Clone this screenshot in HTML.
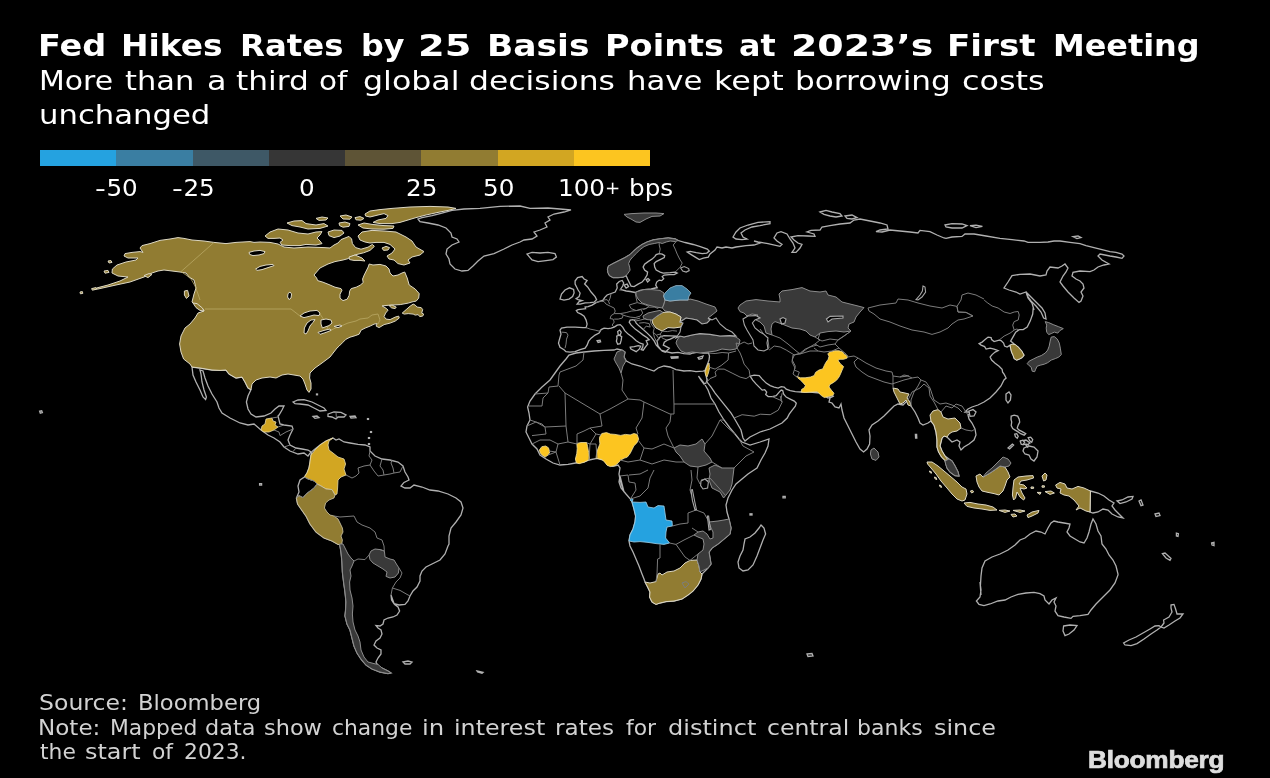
<!DOCTYPE html>
<html lang="en">
<head>
<meta charset="utf-8">
<title>Fed Hikes Rates by 25 Basis Points at 2023’s First Meeting</title>
<style>
html,body{margin:0;padding:0;background:#000;}
body{width:1270px;height:778px;position:relative;overflow:hidden;font-family:"DejaVu Sans","Liberation Sans",sans-serif;color:#fff;}
.abs{position:absolute;white-space:nowrap;line-height:1;transform-origin:0 0;}
#title{left:0;top:31px;font-size:30px;font-weight:bold;}
#sub1{left:0;top:67px;font-size:27px;}
#sub2{left:0;top:101px;font-size:27px;}
.w{position:absolute;top:0;transform-origin:0 0;white-space:nowrap;}
.lg{position:absolute;top:150px;height:16px;}
.ll{top:177px;font-size:23px;transform:scaleX(1.07);}
.hy{display:inline-block;transform:scaleX(1.22);transform-origin:0 50%;margin-right:2.4px;}
.pl{font-size:17px;position:relative;top:-2px;margin:0 1px 0 0;}
.ft{font-size:21px;color:#d2d2d2;left:0;}
#logo{left:1088px;top:748.6px;font-family:"Liberation Sans",sans-serif;font-weight:bold;font-size:23px;color:#dedede;transform:scaleX(1.14);-webkit-text-stroke:0.7px #dedede;letter-spacing:-0.2px;}
#map{position:absolute;left:0;top:0;}
</style>
</head>
<body>
<svg id="map" width="1270" height="778" viewBox="0 0 1270 778">
<path fill="#000" stroke="#b0b0b0" stroke-width="1.3" d="M192,367 L193,375 L196,382 L200,390 L203,397 L205.6,399.6 L206.4,397 L204,390 L202,382 L201,374 L200,370 L203,371 L205,378 L208,386 L212,394 L217,402 L219,408 L222,413 L230,418 L240,423 L248,425 L254,424 L261,430 L268,435 L274,438 L280,442 L284,447 L290,451 L298,454 L304,453 L308,456 L311,452 L308,450 L302,449 L296,448 L290,445 L288,440 L290,435 L293,429 L292,426 L284,425 L280,424 L278,416 L279,415 L282,410 L284,406 L279,406 L275,409 L271,413 L264,416 L256,417 L251,414 L248,409 L246.4,402 L248,396 L251,389.6 L248,388 L245,382 L242,377 L236,378 L229,374 L226,370 L220,370.4 L212,370 L200,368Z"/>
<path fill="#000" stroke="#b0b0b0" stroke-width="1.3" d="M293,402 L298,400 L304,399.6 L312,402 L318,405 L324,408 L326,410.4 L320,411 L314,408 L308,405 L300,404 L295,403.6Z"/>
<path fill="#000" stroke="#b0b0b0" stroke-width="1.3" d="M328,414 L334,412 L341,412.4 L346,415 L344,417 L338,417 L336,419 L332,417 L328,416.4Z"/>
<path fill="#000" stroke="#b0b0b0" stroke-width="1.3" d="M313,416.4 L317,416 L319,417.6 L315,418.4Z"/>
<path fill="#000" stroke="#b0b0b0" stroke-width="1.3" d="M350,416.4 L355,416 L356,417.6 L351,418Z"/>
<path fill="#000" stroke="#b0b0b0" stroke-width="1.3" d="M316.5,394 L317.5,394 L317.5,394.8 L316.5,394.8Z"/>
<path fill="#000" stroke="#b0b0b0" stroke-width="1.3" d="M367.5,418.6 L368.5,418.6 L368.5,419.4 L367.5,419.4Z"/>
<path fill="#000" stroke="#b0b0b0" stroke-width="1.3" d="M370.5,431.6 L371.5,431.6 L371.5,432.4 L370.5,432.4Z"/>
<path fill="#000" stroke="#b0b0b0" stroke-width="1.3" d="M368.5,437.6 L369.5,437.6 L369.5,438.4 L368.5,438.4Z"/>
<path fill="#000" stroke="#b0b0b0" stroke-width="1.3" d="M368.5,443.6 L369.5,443.6 L369.5,444.4 L368.5,444.4Z"/>
<path fill="#000" stroke="#b0b0b0" stroke-width="1.3" d="M314.4,449.6 L320,445 L326,441 L333,438 L336,440 L339,439 L344,442 L350,443 L358,444.4 L365,445 L370,447 L370,451 L375,456 L382,459 L390,460 L398,462 L403,466 L405,472 L408,477 L409,480 L404,482.4 L401,486 L405,488 L410,488 L414,485 L422,487 L430,490 L438,491 L448,494 L456,498 L461,502 L463,508 L461,515 L456,522 L451,528 L449,536 L449,544 L448,546 L445,554 L440,560 L432,564 L426,567 L422,571 L420,576 L420,581 L417,587 L413,591 L410,596 L408,601 L405,604.4 L399,605 L394,603.6 L391.6,600 L391,595 L392.4,599 L394.4,604.4 L398,607 L399.6,611 L397,615 L393,617 L388,618 L384,620 L383,624 L380,626 L376,625.6 L378,628 L381,630 L382,634 L380,638 L376,641 L374,645 L377,648 L381,650 L381,654 L378,658 L376,662 L378,666 L382,668 L388,671 L391,673 L388,673.6 L380,672 L372,669 L366,665 L361,659 L357,653 L354,646 L352,638 L350,630 L347,624 L345,616 L345.6,610 L346,602 L345,592 L343.6,582 L342.4,572 L342,562 L341,552 L339.6,544 L338,544.4 L332,541 L324,538 L316,532 L310,524 L306,516 L301,509 L297.6,504 L296.4,498 L299,492 L298,486 L300,480 L304.4,477 L307,473 L309,468 L310,462 L311,455 L312,451.6Z"/>
<path fill="#000" stroke="#b0b0b0" stroke-width="1.3" d="M403,662 L408,661 L412,662 L410,664 L405,664Z"/>
<path fill="#000" stroke="#b0b0b0" stroke-width="1.3" d="M477,671 L483,672.4 L482,673.2 L477.6,672Z"/>
<path fill="#000" stroke="#b0b0b0" stroke-width="1.3" d="M259.6,483.6 L261.6,483.6 L261.6,485.2 L259.6,485.2Z"/>
<path fill="#000" stroke="#b0b0b0" stroke-width="1.3" d="M39.6,411.2 L41.7,410.8 L42.4,412.6 L40.3,413.3Z"/>
<path fill="#000" stroke="#b0b0b0" stroke-width="1.3" d="M418,219 L420,221.6 L428,223 L438,225 L446,228 L451,233 L452,237 L457,239 L459,242 L452,245 L447,249 L446,254 L449,259 L450,264 L455,269 L462,271 L468,270.4 L473,266 L478,261 L484,256 L494,253.6 L504,249 L512,245 L520,242 L524,240 L532,239 L537,236 L534,232 L540,230 L547,227 L545,223 L550,220 L548,217 L554,214 L564,212 L571,210 L560,209 L548,208 L530,208.4 L520,206 L500,206.4 L480,208.4 L464,209 L452,210.4 L440,213.6 L432,215.6 L422,217.6Z"/>
<path fill="#000" stroke="#b0b0b0" stroke-width="1.3" d="M527,254 L532,252.4 L540,253 L548,252.4 L555,253.6 L556.4,257 L553,259.6 L546,260.6 L538,261.6 L532,260 L530,257.6Z"/>
<path fill="#000" stroke="#b0b0b0" stroke-width="1.3" d="M607.5,269.1 L608.5,266.1 L613.1,263.6 L619.1,260.6 L625.1,257.6 L630.1,254.6 L633.1,251.6 L637.1,248.1 L642.1,244.5 L647.1,242 L653.2,240 L660.2,238.8 L668.2,238 L675.2,239 L678.2,240.5 L685.2,242.5 L693.2,244.5 L700.3,246.6 L707.3,249.1 L709.3,251.1 L706.8,253.1 L702.3,253.6 L696.3,252.6 L690.2,251.3 L687.2,252.1 L691.2,254.6 L695.3,257.1 L699.3,259.6 L703.3,258.1 L708.3,257.1 L710,254 L715,250 L717,247 L722,248 L726,247 L732,248 L736,247 L746,245.6 L754,245 L760,243 L754,241 L758,242 L768,243.6 L780,246.4 L782,244.4 L777,241 L774,238 L777,233 L781,231.6 L787,234 L790,239 L793,243 L795,248 L792,252.4 L796,252.4 L800,248 L802,244.4 L798,243 L794,240 L791,237 L798,235.6 L808,236 L815,236.4 L814,234 L807,232 L811,230.4 L820,230 L822,227 L830,225.6 L840,224 L850,223 L854,220 L860,219 L870,221 L880,223 L887,225 L888,229 L880,230 L876,231.6 L882,232 L890,230 L900,231 L910,232 L918,233 L920,230.4 L930,231.6 L937,235 L944,238 L946,238.4 L952,237 L962,236.4 L965,234 L974,234 L986,236 L1000,238.4 L1012,239.6 L1024,241 L1028,242.4 L1040,242.4 L1048,242 L1054,241 L1060,241 L1070,242.4 L1080,243.6 L1086,245.6 L1094,247.6 L1102,249.6 L1110,251.6 L1116,252.4 L1122,254 L1124,256 L1122,258.4 L1116,257 L1110,256 L1100,254 L1098,256 L1102,260 L1109,264 L1104,265 L1098,267 L1094,270 L1090,271.6 L1080,271 L1073,272.4 L1072,276 L1076,279 L1080,281 L1083,284 L1084,288 L1081,292 L1083,296 L1081,301 L1079,302.4 L1074,298 L1068,292 L1063,286 L1060,282 L1063,276 L1066,272 L1068,268 L1065,264 L1062,266 L1058,268 L1050,267 L1047,271 L1046,275 L1040,276 L1030,274 L1020,274.4 L1012,275.6 L1008,282 L1004,288 L1009,290 L1016,292 L1020,294 L1026,292 L1028,298 L1032,303 L1034,310 L1033.2,308 L1032.7,314 L1030.2,321.1 L1027.2,327.1 L1023.2,329.6 L1019.2,329.6 L1015.7,332.1 L1013.2,336.6 L1010.6,341.1 L1014.2,344.1 L1018.2,347.1 L1021.7,351.1 L1024,355.1 L1022.2,357.6 L1019.2,359.1 L1016.7,360.1 L1014.2,358.6 L1013.2,355.6 L1011.6,352.1 L1010.6,348.1 L1010.1,345.1 L1007.1,347.1 L1004.6,346.1 L1003.6,343.1 L1001.1,340.6 L999.1,340.1 L994.1,341.6 L991.6,339.6 L991.1,337.6 L988.1,337.1 L985.1,339.6 L982.1,342.1 L979.1,343.6 L981.1,345.1 L984.6,346.6 L986.1,349.1 L990.1,348.1 L994.1,349.1 L998.1,350.6 L995.1,352.1 L992.1,354.6 L990.1,357.1 L991.6,360.1 L995.1,363.2 L999.1,366.2 L1002.1,369.2 L1002.6,372.2 L1004.1,374.2 L1006.1,378 L1004,380 L1001,386 L996,392 L990,398 L984,402 L978,405 L972,407 L968,409 L965,412 L972,412 L968,415 L969,419 L972,423 L975,429 L976,435 L974,440 L969,444 L964,447 L961,450 L959,446 L960,442 L957,440 L952,442 L949,439 L947,437 L944,436 L942,438 L941,442 L940,446 L942,451 L945,456 L949,459 L952,461 L955,466 L958,472 L959,476 L955,475.6 L950,472 L947,468 L945,460.4 L941.6,457 L938.6,452 L937,447 L937,440 L936,432 L934,425 L931,421 L928,423 L923,425 L920,423 L918,418 L915,412 L911,406 L908,400 L903,405 L898,404 L894,406 L890,410 L884,416 L878,421 L872,425 L869,430 L870,436 L869.6,444 L867,449 L863.6,452 L860,449 L856,442 L852,434 L848,426 L844,418 L842,410 L841,404 L839,408 L835,407 L832,403 L829,402 L830,398 L834,396 L828,398 L825,396 L820,393 L810,392 L801,392 L795.3,391.6 L790.2,390.6 L786.2,389.1 L784.2,387.1 L781.2,386.6 L778.2,388.1 L774.2,387.1 L770.2,385.6 L766.2,383.1 L762.2,379.1 L759.2,375.6 L754.2,375.1 L750.1,376.1 L752.7,380.1 L756.2,384.1 L760.2,388.1 L762.2,390.1 L764.7,389.6 L766.7,392.1 L765.7,394.6 L768.2,396.6 L772.2,396.6 L776.2,395.6 L779.2,392.1 L781.2,390.1 L782.7,390.6 L783.7,394.1 L786.2,397.1 L790.2,399.1 L794.3,401.1 L796.3,403.2 L795.3,406.2 L792.2,410.2 L789.2,414.2 L787.2,418 L782,423 L770,429 L760,432 L750,437 L745,441 L743,438 L741,430 L737,423 L734.1,418 L731.1,413.2 L727.1,408.2 L723.1,403.2 L719.1,398.1 L715.1,393.1 L711.1,387.1 L707,382.1 L707,380.1 L705,370.6 L705.5,369.1 L707.5,364.1 L709,360 L709.5,356 L708.5,353 L703,353 L698,352 L693,353 L690,354 L684,353.6 L678,352.4 L672,353 L666,351.6 L661,350 L658,346 L657,341 L660,337 L664,335.6 L677,336.1 L673.3,337.7 L670.3,339.2 L667.3,340.2 L664.3,342.2 L663.3,345.2 L666.3,346.7 L669.3,348.2 L667.3,350.2 L665.3,352.2 L662.3,351.2 L659.3,348.2 L656.3,345.2 L654.3,341.2 L651.2,337.1 L647.2,333.1 L643.2,329.6 L639.2,326.1 L636.2,323.1 L635.2,321.1 L633.2,319.6 L630.2,320.1 L629.2,322.1 L631.2,325.1 L635.2,329.1 L639.2,332.1 L643.2,335.1 L647.2,337.7 L649.2,339.7 L646.2,340.7 L647.7,344.2 L645.7,346.7 L643.2,350.2 L641.2,349.7 L642.7,347.2 L643.2,344.2 L640.2,343.2 L636.2,340.7 L632.2,337.1 L628.2,334.1 L624.7,330.6 L622.7,327.1 L620.2,324.6 L617.2,325.1 L614.2,327.1 L611.1,328.1 L608.1,328.6 L604.1,328.1 L601.1,329.6 L599.1,333.1 L595.1,335.1 L591.1,338.2 L588.6,341.2 L587.1,345.2 L585.1,348.2 L580.1,349.7 L575.1,351.7 L570,352.2 L566,351.7 L564,349.7 L560,347.2 L558.5,343.2 L559.5,339.2 L561,334.1 L560,330.1 L561.5,328.1 L567,327.1 L575.1,327.1 L583.1,327.6 L586.1,327.6 L587.1,324.1 L586.1,320.1 L584.1,316.1 L581.1,314.1 L577.6,312.6 L576.3,310.6 L578.1,309.6 L582.1,309.1 L585.6,308.6 L585.1,307.1 L588.1,306.6 L592.1,305.1 L596.1,302.6 L599.1,301.6 L603.1,300.1 L604.6,297.6 L607.1,295 L611.1,293.5 L615.2,292 L617.2,288 L616.7,284 L619.2,281.5 L622.2,280.5 L623.7,283 L622.7,286 L620.7,289 L622.2,290 L626.2,291 L630.2,291.5 L635.2,292.5 L640.2,290.5 L646.2,289.5 L651.2,289 L655.3,288 L657.2,287.7 L655.7,285.1 L656.7,282.1 L659.2,280.1 L661.7,280.6 L663.7,278.6 L662.2,276.6 L664.2,275.1 L669.2,274.6 L674.2,274.6 L677.2,273.1 L675.2,272.1 L670.2,272.6 L663.2,273.1 L660.2,272.1 L656.2,270.1 L654.7,267.1 L654.2,263.6 L656.2,261.6 L660.2,259.6 L664.2,257.6 L664.7,255.6 L662.2,254.1 L659.2,253.6 L656.2,254.6 L654.7,256.6 L652.1,259.1 L648.1,261.6 L644.6,264.1 L643.1,267.1 L644.6,270.1 L647.6,272.1 L647.1,275.1 L644.6,279.1 L642.1,282.1 L638.1,284.1 L634.1,286.6 L631.1,286.1 L629.6,283.1 L627.6,279.1 L626.1,275.6 L623.1,277.1 L618.1,277.6 L613.1,277.6 L609.5,275.6 L608,272.6Z"/>
<path fill="#000" stroke="#b0b0b0" stroke-width="1.3" d="M646.1,279.6 L648.1,278.6 L649.6,280.1 L647.6,281.9Z"/>
<path fill="#000" stroke="#b0b0b0" stroke-width="1.3" d="M671,357 L678,356.6 L678,358 L671.6,358.4Z"/>
<path fill="#000" stroke="#b0b0b0" stroke-width="1.3" d="M698,357.6 L703,356 L702,358.4 L699,359.2Z"/>
<path fill="#000" stroke="#b0b0b0" stroke-width="1.3" d="M733,237 L736,232 L740,228 L748,225 L758,222.4 L770,221.6 L770,223.6 L760,225.6 L752,227 L745,230 L741,233 L743,237 L747,239 L742,239.6 L736,239Z"/>
<path fill="#000" stroke="#b0b0b0" stroke-width="1.3" d="M820,212 L826,210.4 L832,212 L840,213.6 L842,216 L836,217 L830,216 L824,214.4Z"/>
<path fill="#000" stroke="#b0b0b0" stroke-width="1.3" d="M845,216 L852,215 L857,217.6 L852,219 L847,218.4Z"/>
<path fill="#000" stroke="#b0b0b0" stroke-width="1.3" d="M945,225 L952,223.6 L962,224 L967,225.6 L962,228 L952,228 L946,227Z"/>
<path fill="#000" stroke="#b0b0b0" stroke-width="1.3" d="M970,225.6 L976,225.2 L982.4,226.4 L976,227.6Z"/>
<path fill="#000" stroke="#b0b0b0" stroke-width="1.3" d="M1073,236.6 L1078,236 L1081,237.6 L1077,238.6Z"/>
<path fill="#000" stroke="#b0b0b0" stroke-width="1.3" d="M1027,293 L1030,296 L1036,302 L1042,308 L1045,313 L1046,319 L1043.6,318 L1041,312 L1036,306 L1031,301 L1028,297Z"/>
<path fill="#000" stroke="#b0b0b0" stroke-width="1.3" d="M1006,394 L1009,392 L1011,395 L1010.4,400 L1008,403 L1006,400Z"/>
<path fill="#000" stroke="#b0b0b0" stroke-width="1.3" d="M969,411 L973,409.6 L976,412 L974,416 L970,416.4Z"/>
<path fill="#000" stroke="#b0b0b0" stroke-width="1.3" d="M1090.4,491 L1098,493 L1104,496 L1109,500 L1114,503 L1112,506 L1115,510 L1120,515 L1123,518 L1118,517 L1112,514 L1108,510 L1103,509 L1098,512 L1093,513 L1090,512Z"/>
<path fill="#000" stroke="#b0b0b0" stroke-width="1.3" d="M1117,501 L1122,500 L1128,497 L1133,496.4 L1132,499 L1126,502 L1120,503.6Z"/>
<path fill="#000" stroke="#b0b0b0" stroke-width="1.3" d="M1139,501 L1141,500 L1143,505 L1141,505.6Z"/>
<path fill="#000" stroke="#b0b0b0" stroke-width="1.3" d="M1155,514 L1159,513 L1160,515.6 L1156,516.4Z"/>
<path fill="#000" stroke="#b0b0b0" stroke-width="1.3" d="M1176.4,533 L1178.4,533.6 L1178,536.4 L1176.4,536Z"/>
<path fill="#000" stroke="#b0b0b0" stroke-width="1.3" d="M1162.4,553.6 L1165,553 L1171,558.4 L1170,560.4 L1166,558Z"/>
<path fill="#000" stroke="#b0b0b0" stroke-width="1.3" d="M1211.6,543 L1214,542.4 L1214,545.6 L1212,545Z"/>
<path fill="#000" stroke="#b0b0b0" stroke-width="1.3" d="M1024,448 L1029,446 L1034,447 L1038,451 L1037,457 L1034,461 L1031,459 L1029,455 L1025,454 L1023,451Z"/>
<path fill="#000" stroke="#b0b0b0" stroke-width="1.3" d="M1008,448 L1012.4,444 L1013.6,445 L1009.6,449Z"/>
<path fill="#000" stroke="#b0b0b0" stroke-width="1.3" d="M1021,441 L1026,440 L1030,443 L1027,445 L1023,444Z"/>
<path fill="#000" stroke="#b0b0b0" stroke-width="1.3" d="M981,595 L980.4,586 L981,576 L982,568 L985,561 L992,557 L1000,554 L1008,550 L1015,545 L1020,540 L1025,538 L1030,534 L1036,531 L1041,532 L1045,534 L1048,528 L1051,523 L1054,521 L1058,522 L1064,523 L1070,524 L1069,528 L1067,532 L1070,536 L1075,539 L1080,542 L1084,543 L1087,538 L1089,532 L1091,524 L1093,519 L1096,524 L1098,531 L1101,536 L1102,544 L1106,549 L1109,555 L1113,560 L1116,566 L1118,574 L1118,575 L1115,583 L1110,590 L1103,597 L1096,604 L1091,610 L1088,614.4 L1080,615.6 L1073,616.4 L1071,618.4 L1064,617 L1058,615.6 L1055,611 L1056,606 L1054,602 L1056,598 L1052,600 L1049,604 L1045,600 L1044,596 L1040,593.6 L1034,592.4 L1026,593 L1018,594.4 L1011,597 L1005,600 L998,601 L990,604 L984,605.6 L979,604.4 L976.4,601 L980,597 L981,590 L980,582Z"/>
<path fill="#000" stroke="#b0b0b0" stroke-width="1.3" d="M1063.6,626 L1070,625 L1077,625.6 L1074,630 L1069,634 L1065,635.6 L1063,631Z"/>
<path fill="#000" stroke="#b0b0b0" stroke-width="1.3" d="M1171,605 L1174,604.4 L1175.6,609 L1177,614 L1183,614 L1180,618 L1175,621 L1169,625 L1164,628 L1161,627 L1164,623 L1163.6,620 L1169,617 L1172,612 L1171,608Z"/>
<path fill="#000" stroke="#b0b0b0" stroke-width="1.3" d="M1161,627 L1157,630 L1151,634 L1144,639 L1137,643.6 L1131,645.6 L1125,645 L1123.6,643 L1129,640 L1136,637 L1143,633 L1150,629 L1155,626 L1159,625.6Z"/>
<path fill="#000" stroke="#b0b0b0" stroke-width="1.3" d="M569,355 L566,359 L560,366 L555,373 L550,380 L542,387 L535,394 L530,401 L527.6,407 L529,413 L530,420 L527,426 L526,432 L529,438 L532,444 L537,449 L540,455 L546,459 L553,463 L560,465 L568,464.4 L575.6,463 L584,462 L589,460 L597,458.4 L604,460.4 L608,465 L613,466.4 L618,465 L620,468 L619,474 L620,480 L622,486 L624,492 L620,476 L619,482 L621,488 L626,494 L630.4,499 L632,502 L634,509 L635.6,516 L635,522 L633,529 L630,535 L629,541 L630,546 L633,552 L636,559 L639,566 L642,574 L644,579 L645,582 L647.6,587 L650,592 L649.6,597 L652,602 L656,604.4 L660,603 L666,601.6 L674,601 L682,599 L688,595 L693,591 L698,585 L701,579 L702,574 L708,568 L711,564 L710,558 L709,552 L712,548 L718,544 L724,539 L730,534 L731,528 L729,519 L727,512 L726,505 L728,498 L732,490 L736,484 L742,479 L748,474 L754,470 L757,468 L761,460 L765,453 L768,446 L769,439 L760,442 L750,445 L742,442 L739,439 L735,434 L730,428 L724,420 L719,412 L715,404 L711,398 L708,390 L704,383 L698.5,376.1 L701,380.1 L704,384.1 L706,383.1 L707,380.1 L705,370.6 L703,371.1 L696,371.6 L690,370.6 L684,371 L676,369.6 L670,367 L664,366 L658,368 L654,371 L648,369 L640,366 L632,364 L626.4,361 L624,357 L625,352 L622,350 L617,349 L614,350 L604,350.4 L594,351 L584,352 L576,353Z"/>
<path fill="#000" stroke="#b0b0b0" stroke-width="1.3" d="M761,525 L764,528 L765.6,534 L763,540 L760,548 L757,556 L753,565 L748,570 L743,571 L739,568 L738,562 L740,556 L743,550 L744,544 L745,539 L750,537 L755,533 L759,528Z"/>
<path fill="#000" stroke="#b0b0b0" stroke-width="1.3" d="M750,513.8 L752,513.8 L752,515 L750,515Z"/>
<path fill="#000" stroke="#b0b0b0" stroke-width="1.3" d="M783,496.4 L785.2,496.4 L785.2,497.8 L783,497.8Z"/>
<path fill="#000" stroke="#b0b0b0" stroke-width="1.3" d="M575.1,281 L577.6,277.5 L582.1,276.5 L584.1,279 L587.1,280.5 L584.6,284 L587.6,287 L591.1,292 L595.1,296.6 L596.6,299.6 L594.1,302.1 L590.1,302.6 L585.1,302.9 L580.1,304.1 L577.1,304.1 L579.1,301.6 L582.1,300.6 L578.1,299.6 L576.1,298.6 L579.1,296.6 L580.1,293 L578.1,290 L576.6,287 L575.1,284Z"/>
<path fill="#000" stroke="#b0b0b0" stroke-width="1.3" d="M560,299.1 L561.5,294 L565,290 L569.5,287.8 L573.6,289.5 L574.1,293 L572.6,296.6 L569,299.1 L564,300.1Z"/>
<path fill="#000" stroke="#b0b0b0" stroke-width="1.3" d="M616.7,336.1 L619.2,335.1 L621.7,336.6 L621.2,340.2 L620.2,343.7 L617.7,344.2 L616.4,341.2 L617,338.2Z"/>
<path fill="#000" stroke="#b0b0b0" stroke-width="1.3" d="M617.7,331.6 L619.7,330.1 L621.2,332.1 L620.2,335.1 L618.2,334.6Z"/>
<path fill="#000" stroke="#b0b0b0" stroke-width="1.3" d="M630.2,347.2 L634.2,346.7 L638.2,345.7 L640.7,346.2 L639.2,349.2 L636.2,351.7 L633.2,350.2 L630.7,348.7Z"/>
<path fill="#000" stroke="#b0b0b0" stroke-width="1.3" d="M597.1,340.7 L600.1,340.2 L600.6,341.7 L598.1,342.4Z"/>
<path fill="#000" stroke="#b0b0b0" stroke-width="1.3" d="M624.1,285.1 L627.1,284.1 L628.6,286.6 L626.1,288.2Z"/>
<path fill="#000" stroke="#b0b0b0" stroke-width="1.3" d="M1011.2,416.1 L1014.2,415.1 L1017.7,416.1 L1019.2,419.1 L1019.7,422.1 L1018.2,425.1 L1017.2,428.1 L1019.2,430.1 L1022.2,431.6 L1025.7,433.7 L1024.2,435.2 L1020.7,433.7 L1017.7,431.6 L1015.2,430.1 L1012.7,428.6 L1011.2,425.6 L1011.7,422.1 L1011,419.1Z"/>
<path fill="#000" stroke="#b0b0b0" stroke-width="1.3" d="M1014.7,434.2 L1016.7,433.7 L1018.2,436.2 L1017.2,438.2 L1015.4,436.7Z"/>
<path fill="#000" stroke="#b0b0b0" stroke-width="1.3" d="M1020.2,441.2 L1022.7,440.2 L1024.7,442.2 L1023.2,444.7 L1021.2,444.2Z"/>
<path fill="#000" stroke="#b0b0b0" stroke-width="1.3" d="M1028.2,437.7 L1030.7,437.2 L1032.7,439.7 L1031.7,442.2 L1029.7,440.7Z"/>
<path fill="#000" stroke="#b0b0b0" stroke-width="1.3" d="M1026.2,444.2 L1028.2,444.7 L1027.7,447.2 L1026.4,446.2Z"/>
<path fill="#000" stroke="#b0b0b0" stroke-width="1.3" d="M807,654 L812,653.5 L813,656 L808,656.5Z"/>
<path fill="#000" stroke="#b0b0b0" stroke-width="1.3" d="M915.4,434.4 L916.6,434.4 L916.8,438 L915.6,438Z"/>
<path fill="#917c32" stroke="#ddd8c4" stroke-width="1" d="M93,289.4 L98,287.6 L108,285 L120,281 L128,277 L118,276 L112,273 L112.4,269 L117,265 L126,262 L136,260 L138,258 L128,258 L124,256 L125,253.6 L132,252.4 L140,251.6 L143,252.4 L140,248 L142,245.6 L150,243.6 L160,240.4 L170,239 L178,237.6 L184,238.4 L192,240 L204,241 L214,242.4 L226,243.6 L236,242.4 L250,241.6 L254,242.4 L260,242 L270,242.4 L278,244 L284,247 L294,248 L300,247.6 L308,247 L324,247.6 L330,248 L334,245 L338,243 L341,239.6 L345,238 L349,236.4 L351.6,239 L352.4,243.6 L355.6,247.6 L361,249.2 L368,247.2 L372.4,244.4 L374.4,246.4 L370,250.4 L363.6,252.8 L357,254.4 L352.2,256 L348.2,258.6 L343,260 L335,261.6 L328,264 L320,268 L314,275 L316.6,278 L317.6,280.6 L323,282.2 L329,284.6 L335,287.2 L341,288.6 L342,290.2 L340,294.2 L340,298.2 L343,300.6 L347.2,299.2 L349.2,295.2 L349.6,291.2 L351.2,288.6 L356.2,287.2 L360.2,285.2 L363.2,282.6 L362.6,279 L364.2,275 L366.2,271 L368.2,267 L369.2,264 L373,265 L380,264.4 L386,266 L389,269 L390,273 L393,276 L398,275 L402,273 L404.7,272 L407.2,278 L409.2,285 L415.2,289 L419.2,293.6 L418.7,298.1 L416.2,301.1 L413.2,301.6 L408.2,303.1 L400.2,304.6 L390.1,305.1 L382.1,305.9 L386.1,308.3 L388.1,310.1 L385.6,313.1 L384.1,316.6 L386.1,319.1 L390.1,319.6 L395.2,317.1 L398.7,316.1 L399.2,318.1 L395.2,321.1 L390.1,323.1 L384.1,324.6 L379.1,327.6 L376.1,326.1 L377.1,323.6 L374.1,324.1 L370.1,326.1 L365.1,328.1 L361.1,330.1 L359.1,334.2 L355.1,335.7 L350,337.2 L346,339.2 L343,342.2 L339,346.2 L337,348 L330,357 L322,363 L315,368 L310,373 L309.6,378 L311,383 L311,389 L309,392.4 L307,390 L305,384 L303,379 L300,376 L294,375 L288,374 L282,375 L276,378 L270,377 L262,378 L256,380 L252,384 L251,389.6 L248,388 L245,382 L242,377 L236,378 L229,374 L226,370 L220,370.4 L212,370 L200,368 L192,367 L190,364 L183.6,359 L181,352 L179.6,344 L181,336 L185,328 L190,324 L195,318 L198,313 L204,311 L203,309 L198,308 L192,302 L194,294 L196,288 L194,280 L189,277 L186,273 L180,272 L172,271 L164,270 L158,271 L152,273 L144,277 L130,282 L116,285 L98,289Z"/>
<path fill="#917c32" stroke="#ddd8c4" stroke-width="1" d="M265,236 L270,232 L278,229 L288,230 L298,233 L308,234 L316,232 L322,231.6 L320,235 L317,238 L320,241 L322,243.6 L316,245 L306,244.4 L300,245.6 L290,245.6 L282,245 L280,242.4 L283,240 L280,238 L274,238.4 L268,238.4Z"/>
<path fill="#917c32" stroke="#ddd8c4" stroke-width="1" d="M287,223 L294,221 L302,220.6 L306,223.6 L316,225 L324,223.6 L328,226 L320,228.4 L308,229 L300,227 L292,225.6Z"/>
<path fill="#917c32" stroke="#ddd8c4" stroke-width="1" d="M316,218.4 L322,217 L328,218 L326,220 L319,220.4Z"/>
<path fill="#917c32" stroke="#ddd8c4" stroke-width="1" d="M328,232 L334,230 L342,230.4 L344,233 L340,236 L334,237.6 L329,235.6Z"/>
<path fill="#917c32" stroke="#ddd8c4" stroke-width="1" d="M358,236 L362,232 L372,230.4 L384,231 L396,232 L406,237 L412,241 L416,247 L424,251.6 L420,255 L412,257 L408,260 L410,263 L404,265 L398,263.6 L394,260 L389,259 L387,256 L392,253 L395,249 L390,244.4 L384,242.4 L376,242.4 L370,243 L365,242 L360,240Z"/>
<path fill="#917c32" stroke="#ddd8c4" stroke-width="1" d="M382,248 L386,246.4 L389.6,247.6 L388,250 L383.6,250.4Z"/>
<path fill="#917c32" stroke="#ddd8c4" stroke-width="1" d="M349,257 L355,255 L362,258 L365,261 L360,260.4 L354,260.4 L349.6,259.6Z"/>
<path fill="#917c32" stroke="#ddd8c4" stroke-width="1" d="M365,214 L370,211 L380,209.6 L392,208.4 L410,207 L430,206.4 L448,207 L456,208.4 L448,210.4 L438,212.4 L426,215 L416,217.6 L408,220 L400,222.4 L392,223.6 L380,223.6 L373,222.4 L378,220 L386,218.4 L388,215.6 L384,213.6 L378,215 L370,217 L365.6,216Z"/>
<path fill="#917c32" stroke="#ddd8c4" stroke-width="1" d="M358,225 L364,223 L372,224.4 L384,225.6 L394,226 L393,228.4 L384,229.2 L372,229 L363,228Z"/>
<path fill="#917c32" stroke="#ddd8c4" stroke-width="1" d="M340,216 L346,215 L352,217 L350,219.2 L343,219Z"/>
<path fill="#917c32" stroke="#ddd8c4" stroke-width="1" d="M355,217.6 L360,216.6 L364,218.4 L361,220.2 L356,219.8Z"/>
<path fill="#917c32" stroke="#ddd8c4" stroke-width="1" d="M339,223 L345,222 L350,223.6 L349,226.4 L343,227.2 L339.6,225.6Z"/>
<path fill="#917c32" stroke="#ddd8c4" stroke-width="1" d="M402.2,313.1 L406.2,309.6 L410.2,306.1 L413.2,304.1 L415.2,305.1 L417.2,307.1 L421.2,307.6 L422.7,309.6 L421.7,313.1 L423.7,314.1 L422.7,316.1 L419.7,316.6 L418.2,314.6 L415.2,315.1 L413.2,314.1 L408.2,313.6 L404.2,314.1Z"/>
<path fill="#917c32" stroke="#ddd8c4" stroke-width="1" d="M389.1,305.6 L392.1,305.1 L396.2,307.1 L395.2,308.6 L391.6,307.9Z"/>
<path fill="#d2a622" stroke="#e6d9a8" stroke-width="0.8" d="M266,419 L272,418 L273,421 L276,422 L275,425 L278,427 L274,430 L269,432 L264,432 L261,430 L262,426 L265,424Z"/>
<path fill="#d2a622" stroke="#e6d9a8" stroke-width="0.8" d="M333,438 L326,441 L320,445 L315,450 L311,455 L310,462 L309,468 L307,473 L304.4,477 L308,479 L314,481 L317,484 L321,486 L326,489 L332,489.6 L335,495 L337,494 L337.6,488 L338,480 L341,477 L346,475 L344,469 L345.6,464 L344,459 L338,457 L333,453 L329,450 L328,445 L329,441Z"/>
<path fill="#917c32" stroke="#d0c8a8" stroke-width="0.8" d="M317,484 L314,488 L310,491 L306,494 L303,497.6 L299,495.6 L296.4,498 L297.6,504 L301,509 L306,516 L310,524 L316,532 L324,538 L332,541 L338,544.4 L341.6,545 L342.4,540 L341,536 L343,532 L342.4,528 L340,523 L338,519 L334,516 L330,515 L327,512 L324.4,508 L325.6,503 L329,500 L334,498 L335,495 L332,489.6 L326,489 L321,486Z"/>
<path fill="#393939" stroke="#8c8c8c" stroke-width="1" d="M339.6,544 L341,552 L342,562 L342.4,572 L343.6,582 L345,592 L346,602 L345.6,610 L345,616 L347,624 L350,630 L352,638 L354,646 L357,653 L361,659 L366,665 L372,669 L380,672 L388,673.6 L391,673 L388,671 L382,668 L378,664.4 L374,663.6 L368,662 L364,657 L361,650 L360,642 L358,636 L355,630 L353,622 L352.4,614 L353,606 L352,598 L350,590 L349.6,582 L351,576 L350,570 L352,566 L354,561 L351,558 L348,554 L345,548 L343,544Z"/>
<path fill="#393939" stroke="#8c8c8c" stroke-width="1" d="M369,555 L371,551 L375,549 L380,549.6 L384.4,551 L385,557 L390,559 L394,560 L397,565 L399,568 L398.4,573 L395,577 L390,578 L386,576.4 L387,572 L383,569 L378,566 L373,563 L370,559.6Z"/>
<path fill="#393939" stroke="#8c8c8c" stroke-width="1" d="M624,214.4 L632,213.6 L644,213 L656,213 L664,213.6 L660,216 L652,216.4 L646,219 L640,222.4 L636,222 L631,219 L627,217Z"/>
<path fill="#393939" stroke="#8c8c8c" stroke-width="1" d="M607.5,269.1 L608.5,266.1 L613.1,263.6 L619.1,260.6 L625.1,257.6 L630.1,254.6 L633.1,251.6 L637.1,248.1 L642.1,244.5 L647.1,242 L653.2,240 L660.2,238.8 L668.2,238 L675.2,239 L678.2,240.5 L675.2,241.5 L670.2,241 L666.2,242 L662.2,243.5 L659.2,242.5 L654.2,243.5 L649.1,244.5 L644.1,246.6 L640.1,249.6 L636.1,253.6 L632.6,257.1 L630.1,260.1 L628.6,263.6 L629.6,267.1 L630.1,270.1 L628.1,273.1 L626.1,275.6 L623.1,277.1 L618.1,277.6 L613.1,277.6 L609.5,275.6 L608,272.6Z"/>
<path fill="#393939" stroke="#8c8c8c" stroke-width="1" d="M636,292 L644,289.6 L652,289.6 L660,290.4 L664,293 L663.6,296 L665,300 L664,304 L662.4,308 L656,307 L648,305 L642,303 L638,299 L636,295Z"/>
<path fill="#393939" stroke="#8c8c8c" stroke-width="1" d="M664,304 L665,300 L670,301 L680,300 L688,300 L690,299 L698,301 L706,304 L715,307 L717,311 L712,315 L708,318 L712,320 L707,323 L702,324 L697,320 L692,319 L686,318 L683,320 L680,322 L681,317 L676,314 L670,312 L665,311 L662.4,308Z"/>
<path fill="#3a7ea2" stroke="#9ab8c8" stroke-width="0.8" d="M665,293 L670,288 L676,285.6 L682,285.6 L687,289 L691,293 L689,296 L688,300 L680,300 L670,301 L665,300 L663.6,296Z"/>
<path fill="#917c32" stroke="#ddd8c4" stroke-width="1" d="M652,320 L657,316 L663,312.4 L670,312 L676,314 L681,317 L680,322 L683,323 L681,327 L674,328 L668,327.6 L662,331 L656,328 L653,324Z"/>
<path fill="#393939" stroke="#8c8c8c" stroke-width="1" d="M643,316 L648,313 L654,311.6 L660,310.4 L663,312.4 L657,316 L652,320 L647,319.6 L643.6,318.4Z"/>
<path fill="#393939" stroke="#8c8c8c" stroke-width="1" d="M677,340 L680,336 L684,337 L692,335 L700,333.6 L710,334.4 L720,336 L730,335.6 L736,337 L740,340 L739,345 L736,349 L730,350 L722,349 L716,351 L708,352 L700,353 L692,352 L686,353 L681,351 L678,347 L676,343Z"/>
<path fill="#393939" stroke="#8c8c8c" stroke-width="1" d="M1027.2,363.7 L1029.2,361.1 L1033.2,359.1 L1037.2,357.1 L1041.2,355.6 L1045.2,353.1 L1047.7,350.1 L1049.2,346.1 L1050.2,341.1 L1051.2,337.1 L1054.3,336.6 L1057.3,339.1 L1059.3,343.1 L1060.3,348.1 L1061.3,354.6 L1058.8,357.1 L1055.3,358.6 L1051.2,360.1 L1047.7,362.7 L1044.2,364.2 L1040.2,365.2 L1037.2,366.2 L1035.7,369.2 L1034.7,371.7 L1032.2,371.2 L1031.2,367.2 L1029.2,365.7Z"/>
<path fill="#393939" stroke="#8c8c8c" stroke-width="1" d="M1045.2,321.6 L1048.7,322.6 L1053.2,324.6 L1058.3,326.6 L1063.3,328.6 L1059.8,330.6 L1057.8,333.1 L1054.3,332.1 L1051.2,333.6 L1048.7,334.6 L1046.7,332.1 L1046.2,328.1 L1046.7,325.1Z"/>
<path fill="#917c32" stroke="#ddd8c4" stroke-width="1" d="M1010.1,345.1 L1012.1,344.1 L1015.2,344.6 L1018.2,347.1 L1021.7,351.1 L1024,355.1 L1022.2,357.6 L1019.2,359.1 L1016.7,360.1 L1014.2,358.6 L1013.2,355.6 L1011.6,352.1 L1010.6,348.1Z"/>
<path fill="#393939" stroke="#8c8c8c" stroke-width="1" d="M738,308 L740,305 L746,301 L756,299.6 L768,301 L780,302 L780,299 L779,294 L782,291 L792,289.6 L802,287.6 L810,291 L820,292 L826,291 L828,295 L836,297 L842,302 L850,304 L858,306 L864,307.6 L860,312 L856,317 L854,322 L849,324 L848,328 L851,331 L844,332 L836,331 L828,331.6 L820,333 L815,337 L810,335 L806,331 L800,329 L792,328 L782,324 L775,321.6 L772,324 L771,329 L772,335 L766,333 L764,326 L760,322 L756,320 L753,317 L756,317 L758,315 L752,314 L747,316 L744,313 L740,311.6Z"/>
<path fill="#fcc520" stroke="#f0e0a0" stroke-width="0.8" d="M796.6,376.3 L800.4,377.8 L805.1,377.8 L810.5,377 L814.3,375.5 L815.5,372.4 L818.9,370.1 L822.8,368.9 L824.3,365.5 L825.9,362.4 L828.2,359.3 L829,356.2 L827.8,353.9 L829.7,352 L834.4,350.8 L839,350.8 L842.8,352 L844.4,354.3 L847.5,355.8 L847.1,358.1 L843.6,359.3 L839,359.3 L838.2,360.8 L840.5,363.9 L843.6,366.6 L842.1,370.1 L840.5,373.9 L839,377 L836.7,380.1 L833.6,382.4 L829.7,384.7 L829,387 L831.3,390.1 L834,393.2 L832.8,395.5 L828.2,396.7 L824.3,397.5 L821.3,395.5 L818.9,393.2 L817.4,391.7 L811.2,392.1 L805.1,392.4 L801.2,392.1 L801.6,389.4 L804.3,387.8 L805.4,385.5 L803.5,383.2 L800.4,380.1 L798.1,378.2Z"/>
<path fill="#917c32" stroke="#ddd8c4" stroke-width="1" d="M893,388 L898,389 L900,392 L905,393 L909,394 L907,398 L910,402 L911,406 L908,405 L906,400 L903,403 L900,404 L898,400 L896,396 L894,392Z"/>
<path fill="#917c32" stroke="#ddd8c4" stroke-width="1" d="M930,415 L933,411 L938,409.6 L941,412 L943,417 L948,419 L955,418 L960,423 L961,428 L957,431 L952,432 L949,434 L947,437 L944,436 L942,438 L941,442 L940,446 L942,451 L945,456 L948,460 L945,460.4 L941.6,457 L938.6,452 L937,447 L937,440 L936,432 L934,425 L931,421Z"/>
<path fill="#393939" stroke="#8c8c8c" stroke-width="1" d="M945,461 L949,459 L952,461 L955,466 L958,472 L959,476 L955,475.6 L950,472 L947,468 L945.6,464Z"/>
<path fill="#393939" stroke="#8c8c8c" stroke-width="1" d="M871,450 L874,448 L878,452 L879,457 L876,460.4 L872,459 L870.4,454Z"/>
<path fill="#917c32" stroke="#ddd8c4" stroke-width="1" d="M927,462 L932,462 L938,466 L944,471 L950,476 L957,482 L962,487 L966,489 L967,494 L965,500 L962,501 L957,499 L952,494 L947,488 L941,481 L936,474 L931,468 L927.6,464Z"/>
<path fill="#d2a622" stroke="#e6d9a8" stroke-width="0.8" d="M705,372 L707,366 L709,363 L709.6,368 L708.4,373 L707,377 L705.6,375Z"/>
<path fill="#917c32" stroke="#ddd8c4" stroke-width="1" d="M976,476 L980,474 L983,477 L990,473 L996,469 L1000,466 L1005,467 L1008,472 L1010,477 L1007,480 L1005,486 L1003,491 L999,495 L994,493.6 L988,492.4 L982,491 L979,487 L977,482Z"/>
<path fill="#393939" stroke="#8c8c8c" stroke-width="1" d="M983,477 L986,473 L992,468 L998,462 L1003,457 L1008,459 L1011,463 L1009,466 L1005,467 L1000,466 L996,469 L990,473Z"/>
<path fill="#917c32" stroke="#ddd8c4" stroke-width="1" d="M1014,480 L1018,477 L1026,476 L1033,475.6 L1033.6,478 L1027,480 L1021,481 L1019,484 L1024,485 L1027,488 L1024,489 L1020,488 L1022,493 L1025,498 L1023.6,500 L1020,497 L1017,492 L1015.6,498 L1013.6,500 L1012.4,495 L1013,488 L1013.6,483Z"/>
<path fill="#917c32" stroke="#ddd8c4" stroke-width="1" d="M964,503 L970,502.4 L978,504 L986,505 L993,507 L997,510 L990,510.4 L982,509 L974,508 L967,506.4Z"/>
<path fill="#917c32" stroke="#ddd8c4" stroke-width="1" d="M999,510.4 L1005,510 L1010,511 L1005,512.4Z"/>
<path fill="#917c32" stroke="#ddd8c4" stroke-width="1" d="M1013,510.4 L1020,510 L1025,511 L1020,512.4Z"/>
<path fill="#917c32" stroke="#ddd8c4" stroke-width="1" d="M1011,514.4 L1015,514 L1017,516 L1013,517Z"/>
<path fill="#917c32" stroke="#ddd8c4" stroke-width="1" d="M1027,515 L1032,512 L1039,510.4 L1038,513 L1032,516 L1028,517.6Z"/>
<path fill="#917c32" stroke="#ddd8c4" stroke-width="1" d="M1042,476 L1045,473 L1047,475 L1046,480 L1043.6,481Z"/>
<path fill="#917c32" stroke="#ddd8c4" stroke-width="1" d="M1045,491.6 L1051,491 L1054.4,493 L1050,494.4Z"/>
<path fill="#917c32" stroke="#ddd8c4" stroke-width="1" d="M1037,492.4 L1041,492.4 L1040,494.4Z"/>
<path fill="#917c32" stroke="#ddd8c4" stroke-width="1" d="M1031,487 L1033.6,487 L1033.6,488.4 L1031,488.4Z"/>
<path fill="#917c32" stroke="#ddd8c4" stroke-width="1" d="M1042,485.8 L1044.4,485.8 L1044.4,487.2 L1042,487.2Z"/>
<path fill="#917c32" stroke="#ddd8c4" stroke-width="1" d="M1055.6,485 L1060,482.4 L1065,484 L1067,488 L1072,489 L1078,486.4 L1084,488 L1090.4,491 L1090,512 L1086,511 L1080,508 L1076,510 L1079,506 L1074,500 L1069,496 L1064,495 L1060,493 L1061,489 L1057,488Z"/>
<path fill="#fcc520" stroke="#f0e0a0" stroke-width="0.8" d="M599.5,437.3 L601.8,433.5 L606.5,432.6 L610.3,434 L615,434.4 L620.7,435.4 L625.4,434.4 L630.2,434.9 L633.9,433.5 L637.2,434.4 L638.7,439.2 L636.8,443 L633.9,445.8 L632.1,449.6 L630.2,453.3 L627.3,457.1 L624.5,458.1 L620.7,460 L618.3,462.8 L615,465.6 L610.3,466.6 L607,465.2 L604.6,461.9 L601.8,459.5 L598,458.5 L596.1,458.1 L596.6,453.3 L598,448.6 L599.9,443.9 L599.5,440.1Z"/>
<path fill="#fcc520" stroke="#f0e0a0" stroke-width="0.8" d="M576.8,443.4 L581,442.5 L586.7,442.5 L587.6,446.7 L588.6,452.4 L589.5,458.1 L588.6,460 L583.9,462.3 L579.1,463.7 L576.3,462.8 L575.4,459 L576.8,453.3 L577.2,448.6Z"/>
<path fill="#fcc520" stroke="#f0e0a0" stroke-width="0.8" d="M539.4,450 L541.8,446.7 L545.6,446 L548.4,447.7 L549.8,451.9 L548.4,454.8 L545.1,457.1 L542.3,455.2 L540.2,452.9Z"/>
<path fill="#393939" stroke="#8c8c8c" stroke-width="1" d="M614,359 L617,352 L622,350 L625,352 L624,357 L626,361 L623,366 L621,373 L619,368 L616,363Z"/>
<path fill="#393939" stroke="#8c8c8c" stroke-width="1" d="M674,448 L680,445 L688,446 L696,444 L702,439 L705,444 L704,451 L710,458 L712,462 L706,465 L698,467 L690,466 L684,462 L680,456 L676,452Z"/>
<path fill="#393939" stroke="#8c8c8c" stroke-width="1" d="M709,468 L715,465 L722,468 L734,468 L733,476 L732,484 L730,490 L723.6,498 L720,492 L712,488 L709,480 L710,474Z"/>
<path fill="#25a2e0" stroke="#a0d0ea" stroke-width="0.8" d="M632,502 L640,502.4 L646,502 L648,507 L654,508 L658,505.6 L664,506 L665,513 L666,520 L672,521 L672.4,526 L667,527 L666,532 L665.6,538 L669.6,543 L664,544.4 L656,543.6 L648,542.4 L640,541.6 L634,542 L629,541 L630,535 L633,529 L635,522 L635.6,516 L634,509Z"/>
<path fill="#25a2e0" stroke="#a0d0ea" stroke-width="0.8" d="M631,498 L633,499 L632.4,501.6 L630.4,500.4Z"/>
<path fill="#917c32" stroke="#ddd8c4" stroke-width="1" d="M645,582 L650,583 L656,581.6 L658,574 L660,573 L662,575 L667,572 L674,571 L680,568 L685,563 L690,560.4 L697,560 L699,566 L700,572 L702,574 L701,579 L698,585 L693,591 L688,595 L682,599 L674,601 L666,601.6 L660,603 L656,604.4 L652,602 L649.6,597 L650,592 L647.6,587Z"/>
<path fill="#393939" stroke="#8c8c8c" stroke-width="1" d="M729,519 L731,528 L730,534 L724,539 L718,544 L712,548 L709,552 L710,558 L711,564 L708,568 L702,571 L700,572 L699,566 L697,560 L698,554 L703,550 L704,544 L703,539 L698,537 L694,535 L698,532 L703,531 L707,534 L710,539 L713,538 L713,532 L711,528 L709,522 L718,521 L724,520Z"/>
<path fill="#917c32" stroke="#ddd8c4" stroke-width="1" d="M144,275.6 L149,273.6 L152,274.4 L148,277.6Z"/>
<path fill="#917c32" stroke="#ddd8c4" stroke-width="1" d="M108,261 L111,260.6 L112,262.4 L109,263Z"/>
<path fill="#917c32" stroke="#ddd8c4" stroke-width="1" d="M104,271 L108,270.4 L109,272.4 L105,273.2Z"/>
<path fill="#917c32" stroke="#ddd8c4" stroke-width="1" d="M80,292 L82.4,291.6 L82.8,293.4 L80.4,293.8Z"/>
<path fill="#917c32" stroke="#ddd8c4" stroke-width="1" d="M91.6,288.6 L96,287.6 L96.6,289.2 L92.4,290.2Z"/>
<path fill="#917c32" stroke="#ddd8c4" stroke-width="1" d="M184.4,291 L187.6,290.4 L189,296 L186.4,298.4 L184.4,295Z"/>
<path fill="#917c32" stroke="#ddd8c4" stroke-width="1" d="M193,303 L197,303.6 L202.4,308 L204,311 L200,310.4 L196,307.6Z"/>
<path fill="#917c32" stroke="#ddd8c4" stroke-width="1" d="M929.4,471 L931.2,471.6 L931.6,473.2 L930,472.6Z"/>
<path fill="#917c32" stroke="#ddd8c4" stroke-width="1" d="M934.4,477 L936.2,477.6 L936.8,479.6 L935.2,479Z"/>
<path fill="#917c32" stroke="#ddd8c4" stroke-width="1" d="M939.4,485 L941,485.6 L941.6,487.4 L940,486.8Z"/>
<path fill="#917c32" stroke="#ddd8c4" stroke-width="1" d="M970.4,491 L972.6,490.4 L973.6,492 L971.6,493Z"/>
<path fill="none" stroke="#7c7c7c" stroke-width="1" d="M272,418 L278,417"/>
<path fill="none" stroke="#7c7c7c" stroke-width="1" d="M278,427 L284,425"/>
<path fill="none" stroke="#7c7c7c" stroke-width="1" d="M274,430 L279,432 L280,435.6"/>
<path fill="none" stroke="#7c7c7c" stroke-width="1" d="M280,435.6 L286,432 L293,429"/>
<path fill="none" stroke="#7c7c7c" stroke-width="1" d="M284,447 L290,445"/>
<path fill="none" stroke="#7c7c7c" stroke-width="1" d="M293,451.6 L296,448"/>
<path fill="none" stroke="#7c7c7c" stroke-width="1" d="M336,412.4 L336.4,418.4"/>
<path fill="none" stroke="#7c7c7c" stroke-width="1" d="M346,475 L352,478 L356,476 L359,473 L358,468 L364,466 L370,465 L372,460 L369,456 L370,451"/>
<path fill="none" stroke="#7c7c7c" stroke-width="1" d="M370,465 L374,471 L378,476 L384,475 L383,470 L380,466 L382,459"/>
<path fill="none" stroke="#7c7c7c" stroke-width="1" d="M384,475 L390,474 L394,473 L393,468 L391,463 L392,460"/>
<path fill="none" stroke="#7c7c7c" stroke-width="1" d="M394,473 L400,472 L403,466"/>
<path fill="none" stroke="#7c7c7c" stroke-width="1" d="M304.4,477 L308,479 L314,481 L317,484 L314,488 L310,491 L306,494 L303,497.6 L299,495.6 L296.4,498"/>
<path fill="none" stroke="#7c7c7c" stroke-width="1" d="M334,516 L340,517 L354,516 L357,522 L362,525 L370,528 L375,532 L377,538 L382,540 L384,546 L384.4,552"/>
<path fill="none" stroke="#7c7c7c" stroke-width="1" d="M384.4,551 L380,549.6"/>
<path fill="none" stroke="#7c7c7c" stroke-width="1" d="M354,561 L358,559 L365,559.6 L369,555"/>
<path fill="none" stroke="#7c7c7c" stroke-width="1" d="M399,568 L402,573 L400,578 L396,582 L392.4,588 L391,595"/>
<path fill="none" stroke="#7c7c7c" stroke-width="1" d="M392.4,588 L400,590.4 L407,594.4 L410,596"/>
<path fill="none" stroke="#7c7c7c" stroke-width="1" d="M676.2,241.5 L673.2,245 L675.2,249.1 L677.2,254.1 L679.7,259.1 L682.2,263.1 L680.2,267.1 L677.2,270.1 L675.2,272.1"/>
<path fill="none" stroke="#7c7c7c" stroke-width="1" d="M659.2,253.6 L660.2,249.1 L659.2,245 L659.2,242.5"/>
<path fill="none" stroke="#7c7c7c" stroke-width="1" d="M868,308 L880,305 L896,303 L898,299 L908,300 L918,303 L930,306 L942,308 L950,305 L957,306.4 L958,312 L966,312.4 L973,316 L964,319 L958,320 L952,324 L948,328 L940,332 L932,334.4 L924,332 L912,330 L900,326 L890,322 L880,319 L874,314 L869,311Z"/>
<path fill="none" stroke="#7c7c7c" stroke-width="1" d="M851,331 L844,336 L838,340 L835,344 L839,348 L846,354 L847.6,357 L854,356 L858,358 L854,362 L856,367 L862,372 L868,376 L876,379 L884,382 L892,384 L898,382 L904,380 L912,378 L918,377 L921,380 L926,382 L930,388 L932,394 L934,400 L940,404 L946,403 L952,405 L958,408 L962,412"/>
<path fill="none" stroke="#7c7c7c" stroke-width="1" d="M973,316 L966,312.4 L958,312 L957,306.4 L961,300 L962,295 L968,293 L976,295 L984,299"/>
<path fill="none" stroke="#7c7c7c" stroke-width="1" d="M1014.2,330.1 L1012.7,325.1 L1014.2,321.6 L1018.2,320 L1019.2,315 L1018.2,311.5 L1014.2,312 L1010.1,313.5 L1004.1,312 L998.1,308 L992.1,306 L987.1,302.5 L984.1,300"/>
<path fill="none" stroke="#7c7c7c" stroke-width="1" d="M999.1,340.1 L1004.1,336.1 L1010.1,333.1 L1014.2,330.1 L1016.2,329.1 L1019.2,329.6"/>
<path fill="none" stroke="#7c7c7c" stroke-width="1" d="M858,358 L866,363 L876,368 L886,371 L892,372 L893,376 L900,377 L908,376 L912,378"/>
<path fill="none" stroke="#7c7c7c" stroke-width="1" d="M893,376 L893,388"/>
<path fill="none" stroke="#7c7c7c" stroke-width="1" d="M908,400 L912,392 L920,388 L924,384 L929,388 L930,396 L934,402 L938,409.6"/>
<path fill="none" stroke="#7c7c7c" stroke-width="1" d="M941,412 L946,406 L952,408 L956,404 L962,406 L968,415"/>
<path fill="none" stroke="#7c7c7c" stroke-width="1" d="M961,428 L966,430 L972,431 L975,429"/>
<path fill="none" stroke="#7c7c7c" stroke-width="1" d="M682,583 L686,581.6 L689,584 L685,588Z"/>
<path fill="none" stroke="#7c7c7c" stroke-width="1" d="M584,352 L583,360 L576,366 L568,369 L560,372 L559,375"/>
<path fill="none" stroke="#7c7c7c" stroke-width="1" d="M535,394 L548,393 L549,387 L558,386 L559,375"/>
<path fill="none" stroke="#7c7c7c" stroke-width="1" d="M529,406 L542,406 L543,398 L548,393"/>
<path fill="none" stroke="#7c7c7c" stroke-width="1" d="M565,393 L566,426 L545,427 L542,424 L530,420"/>
<path fill="none" stroke="#7c7c7c" stroke-width="1" d="M559,386 L565,393 L600,414 L610,409 L628,399"/>
<path fill="none" stroke="#7c7c7c" stroke-width="1" d="M621,373 L623,380 L622,390 L628,399 L640,400 L644,402 L670,414"/>
<path fill="none" stroke="#7c7c7c" stroke-width="1" d="M673,370 L674,405"/>
<path fill="none" stroke="#7c7c7c" stroke-width="1" d="M674,404 L715,404"/>
<path fill="none" stroke="#7c7c7c" stroke-width="1" d="M670,414 L674,414 L674,405"/>
<path fill="none" stroke="#7c7c7c" stroke-width="1" d="M671,414 L670,422 L666,428 L668,436 L674,448"/>
<path fill="none" stroke="#7c7c7c" stroke-width="1" d="M644,402 L642,418 L636,428 L638,434"/>
<path fill="none" stroke="#7c7c7c" stroke-width="1" d="M600,414 L602,426 L590,428 L584,431 L577,434 L577,444"/>
<path fill="none" stroke="#7c7c7c" stroke-width="1" d="M590,428 L596,434 L601,435"/>
<path fill="none" stroke="#7c7c7c" stroke-width="1" d="M638,440 L644,448 L652,449 L664,444 L674,448"/>
<path fill="none" stroke="#7c7c7c" stroke-width="1" d="M620,460 L628,462 L640,460 L644,448"/>
<path fill="none" stroke="#7c7c7c" stroke-width="1" d="M640,460 L652,464 L664,460 L676,462 L684,462"/>
<path fill="none" stroke="#7c7c7c" stroke-width="1" d="M527,426 L536,422 L545,427 L546,434 L532,435.6"/>
<path fill="none" stroke="#7c7c7c" stroke-width="1" d="M532,444 L540,440 L550,440 L558,444 L556,452 L549,451"/>
<path fill="none" stroke="#7c7c7c" stroke-width="1" d="M558,444 L568,442 L577,444"/>
<path fill="none" stroke="#7c7c7c" stroke-width="1" d="M548,455 L556,452 L560,465"/>
<path fill="none" stroke="#7c7c7c" stroke-width="1" d="M566,426 L568,442"/>
<path fill="none" stroke="#7c7c7c" stroke-width="1" d="M589,460 L590,444 L587,443"/>
<path fill="none" stroke="#7c7c7c" stroke-width="1" d="M597,458 L596,444 L590,444 L596,434"/>
<path fill="none" stroke="#7c7c7c" stroke-width="1" d="M705,444 L712,436 L716,428 L720,420 L724,420"/>
<path fill="none" stroke="#7c7c7c" stroke-width="1" d="M712,462 L722,468"/>
<path fill="none" stroke="#7c7c7c" stroke-width="1" d="M734,468 L746,456 L754,452 L743,446 L739,439"/>
<path fill="none" stroke="#7c7c7c" stroke-width="1" d="M720,420 L728,428 L735,434"/>
<path fill="none" stroke="#7c7c7c" stroke-width="1" d="M698,467 L697,478 L700,484 L709,480"/>
<path fill="none" stroke="#7c7c7c" stroke-width="1" d="M620,476 L628,475 L629,482 L635,483 L636,490 L630.4,499"/>
<path fill="none" stroke="#7c7c7c" stroke-width="1" d="M629,475 L640,474 L648,470"/>
<path fill="none" stroke="#7c7c7c" stroke-width="1" d="M630.4,499 L640,496 L648,488 L650,478 L654,470"/>
<path fill="none" stroke="#7c7c7c" stroke-width="1" d="M691,470 L692,480 L690,490 L693,500 L696,510 L688,513 L688,523 L680,524 L672.4,526"/>
<path fill="none" stroke="#7c7c7c" stroke-width="1" d="M696,510 L704,513 L709,522"/>
<path fill="none" stroke="#7c7c7c" stroke-width="1" d="M701,480 L710,478 L726,496"/>
<path fill="none" stroke="#7c7c7c" stroke-width="1" d="M692,528 L698,532"/>
<path fill="none" stroke="#7c7c7c" stroke-width="1" d="M669.6,543 L676,544.4 L684,540 L694,535"/>
<path fill="none" stroke="#7c7c7c" stroke-width="1" d="M676,544.4 L680,550 L685,557 L690,560.4 L698,554"/>
<path fill="none" stroke="#7c7c7c" stroke-width="1" d="M660,544.4 L660,558 L657.6,559 L657,574 L656,581.6"/>
<path fill="none" stroke="#7c7c7c" stroke-width="1" d="M561.5,332.1 L566.5,332.6 L568,335.1 L566.5,339.2 L566,344.2 L565,348.2"/>
<path fill="none" stroke="#7c7c7c" stroke-width="1" d="M586.1,327.6 L590.1,329.1 L595.1,330.1 L599.1,331.1 L601.1,329.6"/>
<path fill="none" stroke="#7c7c7c" stroke-width="1" d="M596.1,302.6 L600.1,301.1 L604.1,301.6 L606.1,304.1 L610.1,306.1 L614.2,308.1 L615.2,311.1 L614.2,313.6"/>
<path fill="none" stroke="#7c7c7c" stroke-width="1" d="M603.1,300.1 L607.1,299.6 L608.6,301.6"/>
<path fill="none" stroke="#7c7c7c" stroke-width="1" d="M611.1,293.5 L610.1,298.1 L608.6,301.6 L609.6,304.1"/>
<path fill="none" stroke="#7c7c7c" stroke-width="1" d="M614.2,313.6 L611.1,315.6 L610.1,318.6 L613.2,319.1 L614.2,322.1 L612.1,325.1 L614.2,327.1"/>
<path fill="none" stroke="#7c7c7c" stroke-width="1" d="M614.2,313.6 L620.2,313.6 L623.2,315.1 L622.2,318.1 L618.2,319.1 L614.2,319.1"/>
<path fill="none" stroke="#7c7c7c" stroke-width="1" d="M635.2,292.5 L636.2,298.1 L637.2,302.1"/>
<path fill="none" stroke="#7c7c7c" stroke-width="1" d="M632.2,304.1 L637.2,302.6 L643.2,304.1 L648.7,306.1 L646.2,308.6 L641.2,309.1 L636.2,310.6 L631.2,308.6 L629.2,305.1 L632.2,304.1"/>
<path fill="none" stroke="#7c7c7c" stroke-width="1" d="M620.2,313.6 L626.2,312.6 L631.2,311.1 L636.2,310.6 L641.2,309.6 L642.7,313.1 L640.2,316.1 L635.2,317.6 L630.2,317.1 L626.2,316.1 L623.2,315.1"/>
<path fill="none" stroke="#7c7c7c" stroke-width="1" d="M643.2,309.6 L648.7,307.1 L654.3,307.1 L658.3,308.6"/>
<path fill="none" stroke="#7c7c7c" stroke-width="1" d="M633.2,319.6 L636.2,319.1 L640.2,318.1"/>
<path fill="none" stroke="#7c7c7c" stroke-width="1" d="M635.2,321.1 L640.2,320.1 L644.2,319.1 L646.2,318.6"/>
<path fill="none" stroke="#7c7c7c" stroke-width="1" d="M639.2,323.1 L644.2,322.6 L649.2,323.6 L650.2,327.1 L646.2,326.1 L643.2,329.6"/>
<path fill="none" stroke="#7c7c7c" stroke-width="1" d="M650.2,319.1 L651.2,324.1 L654.3,328.1 L653.2,332.1 L656.3,335.1 L660.3,334.1 L662.3,331.1"/>
<path fill="none" stroke="#7c7c7c" stroke-width="1" d="M662.3,331.1 L667.3,331.6 L672.3,330.6 L677,331.1"/>
<path fill="none" stroke="#7c7c7c" stroke-width="1" d="M660.3,334.1 L662.3,338.2 L667.3,340.2"/>
<path fill="none" stroke="#7c7c7c" stroke-width="1" d="M653.2,332.1 L654.3,337.1 L656.3,341.2 L659.3,339.2 L656.3,335.1"/>
<path fill="none" stroke="#7c7c7c" stroke-width="1" d="M619.2,290 L622.2,290"/>
<path fill="none" stroke="#7c7c7c" stroke-width="1" d="M706,383.1 L710,378.6 L716.1,376.1 L715.1,372.1 L718.1,369.1"/>
<path fill="none" stroke="#7c7c7c" stroke-width="1" d="M718.1,369.1 L724.1,369.1 L732.1,373.1 L740.1,377.1 L746.1,378.6 L750.1,376.1"/>
<path fill="none" stroke="#7c7c7c" stroke-width="1" d="M750.1,376.1 L749.1,370.1 L744.1,364.1 L742.1,358 L740.1,353 L737.1,348 L736.1,343"/>
<path fill="none" stroke="#7c7c7c" stroke-width="1" d="M721.1,365.6 L728.1,360 L728.6,353"/>
<path fill="none" stroke="#7c7c7c" stroke-width="1" d="M709,367.1 L715.1,369.1 L721.1,365.6"/>
<path fill="none" stroke="#7c7c7c" stroke-width="1" d="M708.5,353 L715.1,353.5 L722.1,352.5 L728.6,353 L736.1,351"/>
<path fill="none" stroke="#7c7c7c" stroke-width="1" d="M734.1,418 L742.1,414.7 L754.2,416.2 L760.2,414.2 L770.2,414.7 L778.2,410.2 L782.2,402.1 L780.2,396.1"/>
<path fill="none" stroke="#7c7c7c" stroke-width="1" d="M772.2,396.6 L780.2,400.1 L782.2,402.1"/>
<path fill="none" stroke="#7c7c7c" stroke-width="1" d="M782.2,393.1 L780.7,400.1"/>
<path fill="none" stroke="#7c7c7c" stroke-width="1" d="M794.3,355 L792.2,360 L795.3,366.1 L794.3,370.1 L799.3,372.1 L797.8,376.1"/>
<path fill="none" stroke="#7c7c7c" stroke-width="1" d="M769.2,350 L774.2,346 L780.2,347 L786.2,350 L794.3,355"/>
<path fill="none" stroke="#7c7c7c" stroke-width="1" d="M794.3,355 L800.3,353 L805.3,349 L810.3,347 L817,345"/>
<path fill="none" stroke="#7c7c7c" stroke-width="1" d="M736.1,343 L740.1,344 L744.1,342 L748.1,344 L752.1,343"/>
<path fill="none" stroke="#b9a864" stroke-width="0.8" d="M214,242.4 L181,271.6 L186,275 L191,279 L195,286 L198,294 L200,300"/>
<path fill="none" stroke="#b9a864" stroke-width="0.8" d="M205,309 L291,309"/>
<path fill="none" stroke="#b9a864" stroke-width="0.8" d="M291,309 L300,316 L320,314 L324,320 L328,326 L326,332 L331,330 L338,327 L342,325.6 L348,323 L356,321 L360,319 L368,318 L372,315 L378,314 L380,320 L378,324"/>
<path fill="none" stroke="#7c7c7c" stroke-width="1" d="M760,329 L768,340 L769,348 L760,350"/>
<path fill="none" stroke="#7c7c7c" stroke-width="1" d="M772,335 L780,338 L788,344 L795,350 L800,354 L808,348 L815,344 L820,340 L815,337"/>
<path fill="none" stroke="#7c7c7c" stroke-width="1" d="M851,331 L844,336 L838,340 L830,339 L822,341 L818,339 L820,333"/>
<path fill="none" stroke="#7c7c7c" stroke-width="1" d="M815,344 L820,347 L828,345 L835,344 L839,348 L832,351 L824,352 L818,351 L814,348"/>
<path fill="none" stroke="#7c7c7c" stroke-width="1" d="M793,355 L800,354 L810,351 L818,351"/>
<path fill="none" stroke="#7c7c7c" stroke-width="1" d="M793,355 L792,362 L795,368 L793,374 L798,378"/>
<path fill="none" stroke="#7c7c7c" stroke-width="1" d="M900,377 L904,375 L909,376"/>
<path fill="none" stroke="#7c7c7c" stroke-width="1" d="M921,380 L918,386 L914,392 L911,400 L911,406"/>
<path fill="#000" stroke="#ddd8c4" stroke-width="1" d="M300,316 L304,313 L310,311 L317,310.4 L320,313 L319,315.6 L314,315 L309,316.4 L304,317.6Z"/>
<path fill="#000" stroke="#ddd8c4" stroke-width="1" d="M304,333 L304.4,328 L307,323 L311,320 L315,319.6 L313,322.4 L310,326 L308,331 L306,334Z"/>
<path fill="#000" stroke="#ddd8c4" stroke-width="1" d="M321,320 L326,319 L331,320 L332,323 L329,325.6 L325,327 L322.4,328 L321,324Z"/>
<path fill="#000" stroke="#ddd8c4" stroke-width="1" d="M318,332.4 L324,330.4 L330,329 L331,330.4 L326,332.4 L320,334.4Z"/>
<path fill="#000" stroke="#ddd8c4" stroke-width="1" d="M334,326.4 L340,325 L342,326 L338,327.6Z"/>
<path fill="#000" stroke="#ddd8c4" stroke-width="1" d="M288,293.6 L290,292 L291.6,294 L291,298 L289,299.6 L287.6,297Z"/>
<path fill="#000" stroke="#ddd8c4" stroke-width="1" d="M249,252.4 L254,251 L260,250.4 L265,251.6 L264,253.6 L259,255 L253,255.6 L249.6,254.4Z"/>
<path fill="#000" stroke="#ddd8c4" stroke-width="1" d="M255.6,269 L260,266.4 L266,265 L273,264.4 L274,265.6 L268,267.6 L262,269.6 L257,270.4Z"/>
<path fill="#000" stroke="#a8a8a8" stroke-width="1.1" d="M676,338 L680,336 L684,337 L692,335 L700,333.6 L710,334.4 L720,336 L730,335.6 L736,336 L732,332 L726,329 L720,324 L716,318 L712,320 L708,318 L710,320 L707,323 L702,324 L697,320 L692,319 L686,318 L683,320 L680,322 L683,323 L681,327 L680,332Z"/>
<path fill="#000" stroke="#a8a8a8" stroke-width="1.1" d="M743,319 L748,316 L756,315.6 L760,318 L755,320 L752.4,323 L755,328 L760,332 L764,334.4 L768,338 L767,343 L768,349 L764,351 L758,350 L754,346 L753,340 L750,335 L747,330 L744.4,325Z"/>
<path fill="#000" stroke="#a8a8a8" stroke-width="1.1" d="M780,319 L783,317.6 L786,319 L785,323 L781.6,324Z"/>
<path fill="#000" stroke="#a8a8a8" stroke-width="1.1" d="M826.4,319 L830,316.4 L843,316 L843,318 L832,319 L828,322Z"/>
<path fill="#000" stroke="#a8a8a8" stroke-width="1.1" d="M923,286 L925,287 L925.6,292 L922,297 L918,300 L916,299.6 L920,295 L922.4,291Z"/>
<path fill="#000" stroke="#a8a8a8" stroke-width="1.1" d="M680.7,268.1 L684.2,266.6 L688.7,268.6 L689.2,270.6 L686.2,272.1 L682.7,271.1Z"/>
<path fill="#000" stroke="#a8a8a8" stroke-width="1.1" d="M701,481 L705,479 L708.4,482 L707.6,488 L703,489 L700.6,485.6Z"/>
<path fill="#000" stroke="#a8a8a8" stroke-width="1.1" d="M691,490 L692.4,489.6 L694.4,500 L696.4,509.6 L695,510 L692.4,500.4Z"/>
<path fill="#000" stroke="#a8a8a8" stroke-width="1.1" d="M707.4,516 L708.6,516 L710.4,529.6 L709,530Z"/>
</svg>
<div class="abs" id="title"><span class="w" style="left:37.55px;transform:scaleX(1.1161)">Fed</span> <span class="w" style="left:120.91px;transform:scaleX(1.0966)">Hikes</span> <span class="w" style="left:240.07px;transform:scaleX(1.0783)">Rates</span> <span class="w" style="left:361.06px;transform:scaleX(1.06)">by</span> <span class="w" style="left:418.17px;transform:scaleX(1.28)">25</span> <span class="w" style="left:486.68px;transform:scaleX(1.15)">Basis</span> <span class="w" style="left:605.04px;transform:scaleX(1.1186)">Points</span> <span class="w" style="left:738.7px;transform:scaleX(1.06)">at</span> <span class="w" style="left:790.67px;transform:scaleX(1.2627)">2023’s</span> <span class="w" style="left:946.88px;transform:scaleX(1.1392)">First</span> <span class="w" style="left:1052.81px;transform:scaleX(1.0624)">Meeting</span></div>
<div class="abs" id="sub1"><span class="w" style="left:38.69px;transform:scaleX(1.1063)">More</span> <span class="w" style="left:125.47px;transform:scaleX(1.1276)">than</span> <span class="w" style="left:206.65px;transform:scaleX(1.18)">a</span> <span class="w" style="left:235.54px;transform:scaleX(1.1567)">third</span> <span class="w" style="left:318.99px;transform:scaleX(1.09)">of</span> <span class="w" style="left:362.73px;transform:scaleX(1.1722)">global</span> <span class="w" style="left:468.54px;transform:scaleX(1.1642)">decisions</span> <span class="w" style="left:626.52px;transform:scaleX(1.1381)">have</span> <span class="w" style="left:714.31px;transform:scaleX(1.18)">kept</span> <span class="w" style="left:795.09px;transform:scaleX(1.1534)">borrowing</span> <span class="w" style="left:961.6px;transform:scaleX(1.18)">costs</span></div>
<div class="abs" id="sub2"><span class="w" style="left:38.73px;transform:scaleX(1.1363)">unchanged</span></div>
<div class="lg" style="left:40px;width:76.75px;background:#25a2e0"></div>
<div class="lg" style="left:116.25px;width:76.75px;background:#3a7ea2"></div>
<div class="lg" style="left:192.5px;width:76.75px;background:#3e5866"></div>
<div class="lg" style="left:268.75px;width:76.75px;background:#363636"></div>
<div class="lg" style="left:345px;width:76.75px;background:#5e5436"></div>
<div class="lg" style="left:421.25px;width:76.75px;background:#917c32"></div>
<div class="lg" style="left:497.5px;width:76.75px;background:#d2a622"></div>
<div class="lg" style="left:573.75px;width:76.25px;background:#fcc520"></div>
<div class="abs ll" id="l1" style="left:94.5px"><span class="hy">-</span>50</div>
<div class="abs ll" id="l2" style="left:171.5px"><span class="hy">-</span>25</div>
<div class="abs ll" id="l3" style="left:299px">0</div>
<div class="abs ll" id="l4" style="left:406px">25</div>
<div class="abs ll" id="l5" style="left:483px">50</div>
<div class="abs ll" id="l6" style="left:558px">100<span class="pl">+</span> bps</div>
<div class="abs ft" id="f1" style="top:693px"><span class="w" style="left:39.48px;transform:scaleX(1.1224)">Source:</span> <span class="w" style="left:137.94px;transform:scaleX(1.0784)">Bloomberg</span></div>
<div class="abs ft" id="f2" style="top:717.5px"><span class="w" style="left:38.4px;transform:scaleX(1.0981)">Note:</span> <span class="w" style="left:109.87px;transform:scaleX(1.04)">Mapped</span> <span class="w" style="left:205.24px;transform:scaleX(1.0644)">data</span> <span class="w" style="left:264.43px;transform:scaleX(1.0673)">show</span> <span class="w" style="left:332.21px;transform:scaleX(1.04)">change</span> <span class="w" style="left:421.93px;transform:scaleX(1.16)">in</span> <span class="w" style="left:453.54px;transform:scaleX(1.1321)">interest</span> <span class="w" style="left:555.1px;transform:scaleX(1.102)">rates</span> <span class="w" style="left:625.57px;transform:scaleX(1.04)">for</span> <span class="w" style="left:667.66px;transform:scaleX(1.1434)">distinct</span> <span class="w" style="left:766.88px;transform:scaleX(1.1211)">central</span> <span class="w" style="left:857.4px;transform:scaleX(1.0483)">banks</span> <span class="w" style="left:934.46px;transform:scaleX(1.1358)">since</span></div>
<div class="abs ft" id="f3" style="top:742px"><span class="w" style="left:40.44px;transform:scaleX(1.04)">the</span> <span class="w" style="left:85.06px;transform:scaleX(1.1375)">start</span> <span class="w" style="left:151.96px;transform:scaleX(1.04)">of</span> <span class="w" style="left:183.67px;transform:scaleX(1.04)">2023.</span></div>
<div class="abs" id="logo">Bloomberg</div>
</body>
</html>
